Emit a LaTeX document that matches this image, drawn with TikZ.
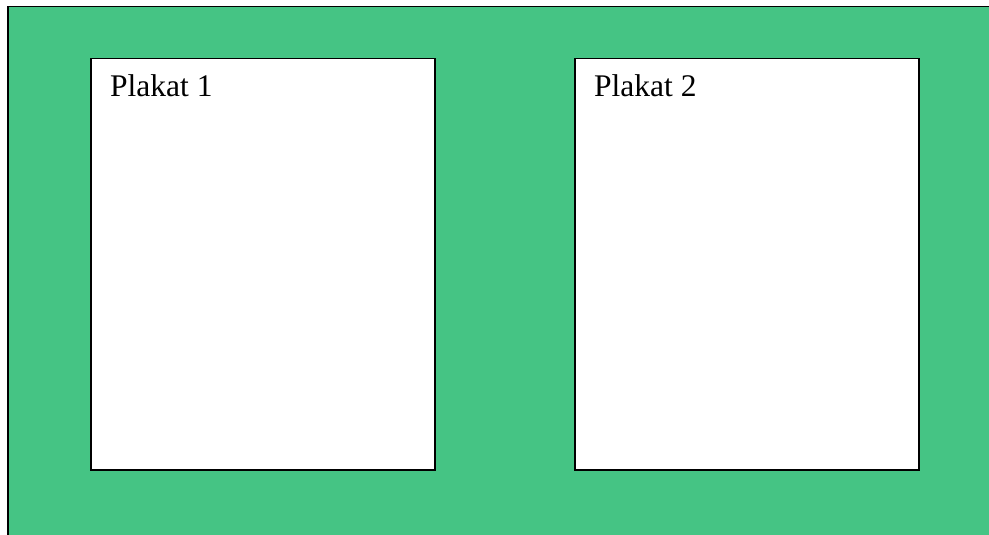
\documentclass[tikz,border=0pt]{standalone}
\usepackage{fontspec}
\setmainfont{Liberation Serif}
\usepackage{xcolor}
\definecolor{wallgreen}{HTML}{45C484}
\definecolor{boardink}{HTML}{000000}

\begin{document}
\begin{tikzpicture}[
  x=1pt,
  y=-1pt,
  every node/.style={font=\fontsize{31.5}{38}\selectfont},
  plakat/.style={draw=boardink, fill=white, line width=1.5pt, inner sep=0pt,
    minimum width=344pt, minimum height=411pt, anchor=north west}
]
  \useasboundingbox (0,0) rectangle (989,535);

  % wall, cut at the right and bottom
  \draw[boardink, fill=wallgreen, line width=1.5pt] (8,6.5) rectangle (1000,550);

  \node[plakat] (plakat1) at (90,58) {};
  \node[plakat] (plakat2) at (574,58) {};

  \node[boardink, anchor=base west, inner sep=0pt] (label1) at (110,97) {Plakat 1};
  \node[boardink, anchor=base west, inner sep=0pt] (label2) at (594,97) {Plakat 2};
\end{tikzpicture}
\end{document}
